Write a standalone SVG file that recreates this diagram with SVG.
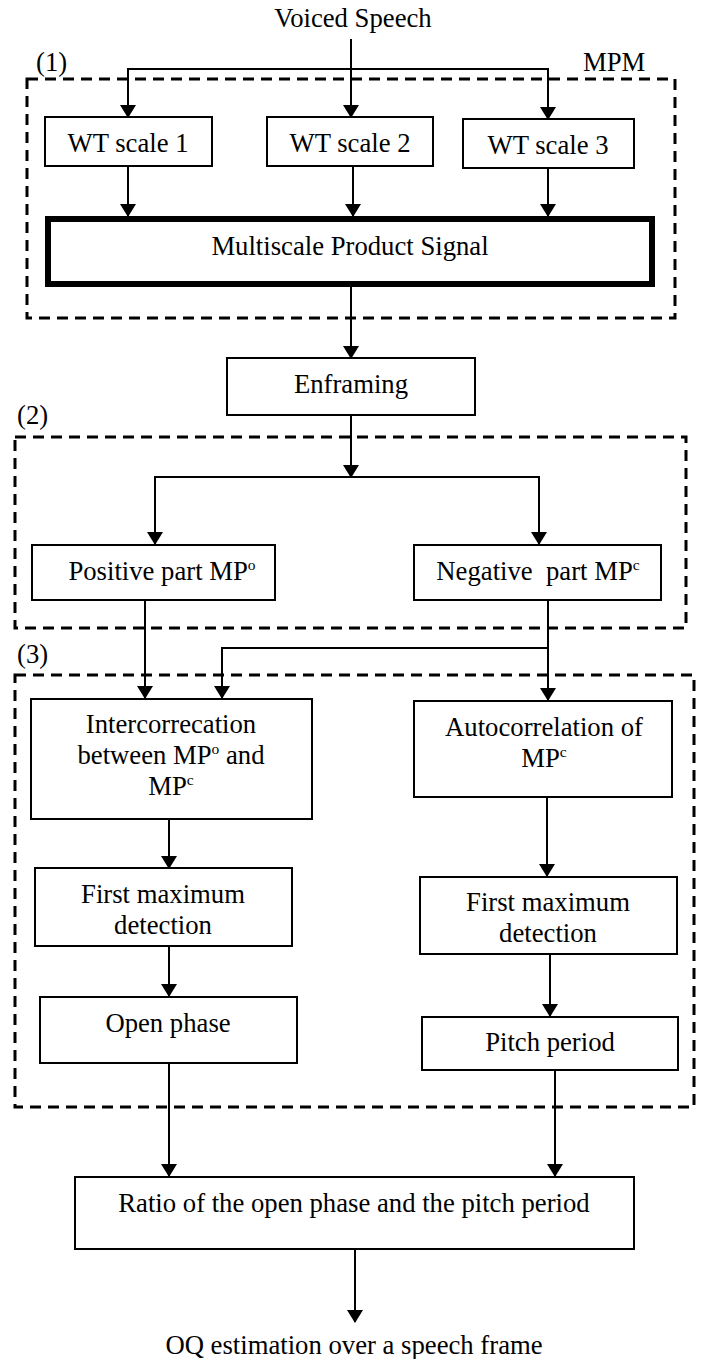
<svg xmlns="http://www.w3.org/2000/svg" width="702" height="1359" viewBox="0 0 702 1359">
  <style>
    text { font-family: "Liberation Serif", "Times New Roman", serif; font-size: 26.7px; fill: #000; }
    .c { text-anchor: middle; }
    .box { fill: #fff; stroke: #000; stroke-width: 2; }
    .thick { fill: #fff; stroke: #000; stroke-width: 6; }
    .group { fill: none; stroke: #000; stroke-width: 3; stroke-dasharray: 11 7; }
    .arrow { fill: none; stroke: #000; stroke-width: 2; marker-end: url(#head); }
    .sup { font-size: 15.5px; }
  </style>
  <defs>
    <marker id="head" markerUnits="userSpaceOnUse" markerWidth="14" markerHeight="16" viewBox="0 0 13 16" refX="12" refY="8" orient="auto">
      <path d="M0,0 L13,8 L0,16 z" fill="#000"/>
    </marker>
  </defs>

  <rect width="702" height="1359" fill="#fff"/>

  <!-- processing stages (dashed groupings) -->
  <g id="stages">
    <rect class="group" x="27" y="79" width="648" height="239"/>
    <rect class="group" x="15" y="437" width="671" height="191"/>
    <rect class="group" x="15" y="675" width="679" height="432"/>
    <text x="36" y="71">(1)</text>
    <text x="583" y="71">MPM</text>
    <text x="17" y="424">(2)</text>
    <text x="17" y="663">(3)</text>
  </g>

  <!-- connectors -->
  <g id="connectors">
    <path class="arrow" d="M351,39 V117"/>
    <path class="arrow" d="M351,69 H128 V117"/>
    <path class="arrow" d="M351,69 H548 V119"/>
    <path class="arrow" d="M128,166 V216"/>
    <path class="arrow" d="M353,166 V216"/>
    <path class="arrow" d="M548,168 V216"/>
    <path class="arrow" d="M351,287 V358"/>
    <path class="arrow" d="M351,415 V477"/>
    <path class="arrow" d="M351,477 H155 V544"/>
    <path class="arrow" d="M351,477 H539 V544"/>
    <path class="arrow" d="M145,600 V698"/>
    <path class="arrow" d="M548,600 V700"/>
    <path class="arrow" d="M548,648 H222 V698"/>
    <path class="arrow" d="M169,819 V868"/>
    <path class="arrow" d="M169,946 V996"/>
    <path class="arrow" d="M169,1063 V1176"/>
    <path class="arrow" d="M547,797 V876"/>
    <path class="arrow" d="M550,954 V1016"/>
    <path class="arrow" d="M555,1070 V1176"/>
    <path class="arrow" d="M355,1249 V1322"/>
  </g>

  <g id="input">
    <text class="c" x="353" y="27">Voiced Speech</text>
  </g>

  <g id="wt1">
    <rect class="box" x="45" y="117" width="167" height="49"/>
    <text class="c" x="128" y="152">WT scale 1</text>
  </g>
  <g id="wt2">
    <rect class="box" x="267" y="117" width="166" height="49"/>
    <text class="c" x="350" y="152">WT scale 2</text>
  </g>
  <g id="wt3">
    <rect class="box" x="463" y="119" width="171" height="49"/>
    <text class="c" x="548" y="154">WT scale 3</text>
  </g>

  <g id="mps">
    <rect class="thick" x="48" y="219" width="604" height="65"/>
    <text class="c" x="350" y="255">Multiscale Product Signal</text>
  </g>

  <g id="enframing">
    <rect class="box" x="227" y="358" width="248" height="57"/>
    <text class="c" x="351" y="393">Enframing</text>
  </g>

  <g id="positive">
    <rect class="box" x="32" y="545" width="243" height="55"/>
    <text class="c" x="162" y="580">Positive part MP<tspan class="sup" dy="-10">o</tspan></text>
  </g>
  <g id="negative">
    <rect class="box" x="414" y="545" width="247" height="55"/>
    <text class="c" x="538" y="580" xml:space="preserve">Negative  part MP<tspan class="sup" dy="-10">c</tspan></text>
  </g>

  <g id="intercorrelation">
    <rect class="box" x="31" y="699" width="281" height="120"/>
    <text class="c" x="171" y="733">Intercorrecation</text>
    <text class="c" x="171" y="764">between MP<tspan class="sup" dy="-10">o</tspan><tspan dy="10"> and</tspan></text>
    <text class="c" x="171" y="795">MP<tspan class="sup" dy="-10">c</tspan></text>
  </g>
  <g id="autocorrelation">
    <rect class="box" x="414" y="701" width="258" height="96"/>
    <text class="c" x="544" y="736">Autocorrelation of</text>
    <text class="c" x="544" y="767">MP<tspan class="sup" dy="-10">c</tspan></text>
  </g>

  <g id="max-left">
    <rect class="box" x="35" y="868" width="257" height="78"/>
    <text class="c" x="163" y="903">First maximum</text>
    <text class="c" x="163" y="934">detection</text>
  </g>
  <g id="max-right">
    <rect class="box" x="420" y="877" width="257" height="77"/>
    <text class="c" x="548" y="911">First maximum</text>
    <text class="c" x="548" y="942">detection</text>
  </g>

  <g id="open-phase">
    <rect class="box" x="40" y="997" width="257" height="66"/>
    <text class="c" x="168" y="1032">Open phase</text>
  </g>
  <g id="pitch-period">
    <rect class="box" x="422" y="1017" width="256" height="53"/>
    <text class="c" x="550" y="1051">Pitch period</text>
  </g>

  <g id="ratio">
    <rect class="box" x="75" y="1177" width="559" height="72"/>
    <text class="c" x="354" y="1212">Ratio of the open phase and the pitch period</text>
  </g>

  <g id="output">
    <text class="c" x="354" y="1354">OQ estimation over a speech frame</text>
  </g>
</svg>
